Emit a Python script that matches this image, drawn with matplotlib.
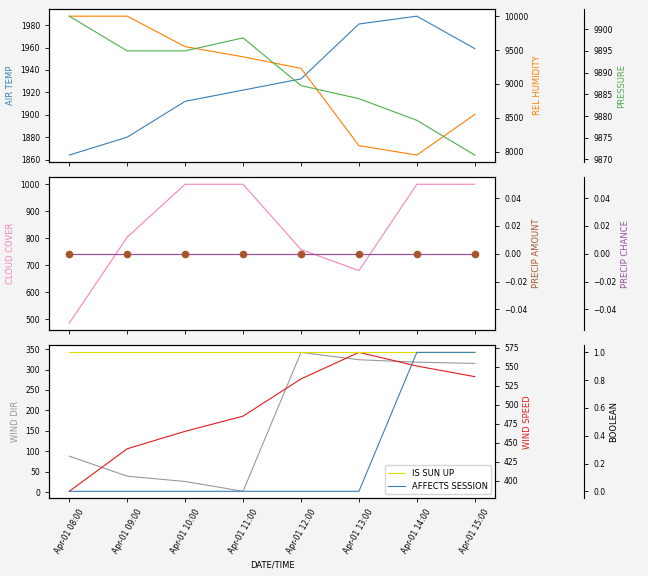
import matplotlib
matplotlib.use("Agg")
import matplotlib.pyplot as plt
import matplotlib.dates as mdates
import numpy as np
import datetime as dt

times = [dt.datetime(2021, 4, 1, h) for h in range(8, 16)]

air_temp = [1864, 1880, 1912, 1922, 1932, 1981, 1988, 1959]
rel_humidity = [10000, 10000, 9550, 9400, 9230, 8090, 7950, 8550]
pressure = [9903, 9895, 9895, 9898, 9887, 9884, 9879, 9871]

cloud_cover = [485, 804, 1000, 1000, 758, 680, 1000, 1000]
precip_amount = [0, 0, 0, 0, 0, 0, 0, 0]
precip_chance = [0, 0, 0, 0, 0, 0, 0, 0]

wind_dir = [88, 39, 26, 2, 342, 324, 318, 315]
wind_speed = [386, 442, 465, 485, 534, 569, 551, 537]
is_sun_up = [1, 1, 1, 1, 1, 1, 1, 1]
affects_session = [0, 0, 0, 0, 0, 0, 1, 1]

c_blue = '#377eb8'
c_orange = '#ff7f00'
c_green = '#4daf4a'
c_pink = '#f781bf'
c_brown = '#a65628'
c_purple = '#984ea3'
c_gray = '#999999'
c_red = '#e41a1c'
c_yellow = '#dede00'

tick_fs = 5.5
label_fs = 6
lw = 0.8

fig, axs = plt.subplots(3, 1, sharex=True, figsize=(6.48, 5.76), dpi=100)
fig.patch.set_facecolor('#f4f4f4')
fig.subplots_adjust(left=0.0756, right=0.764, top=0.984, bottom=0.135, hspace=0.1)


def add_axes3(ax):
    p1 = ax.twinx()
    p2 = ax.twinx()
    p2.spines["right"].set_position(("axes", 1.2))
    p2.set_frame_on(True)
    p2.patch.set_visible(False)
    for sp in p2.spines.values():
        sp.set_visible(False)
    p2.spines["right"].set_visible(True)
    for a in (ax, p1, p2):
        a.tick_params(labelsize=tick_fs, length=3, width=0.6)
    return p1, p2


# top panel
ax = axs[0]
p1, p2 = add_axes3(ax)
ax.plot(times, air_temp, color=c_blue, lw=lw)
p1.plot(times, rel_humidity, color=c_orange, lw=lw)
p2.plot(times, pressure, color=c_green, lw=lw)
ax.set_ylabel("AIR TEMP", color=c_blue, fontsize=label_fs)
p1.set_ylabel("REL HUMIDITY", color=c_orange, fontsize=label_fs, labelpad=3)
p2.set_ylabel("PRESSURE", color=c_green, fontsize=label_fs, labelpad=3)

# middle panel
ax = axs[1]
p1, p2 = add_axes3(ax)
ax.plot(times, cloud_cover, color=c_pink, lw=lw)
p1.plot(times, precip_amount, color=c_brown, lw=lw)
p2.plot(times, precip_chance, color=c_purple, lw=lw)
# markers for precip amount drawn above the purple line
p3 = ax.twinx()
p3.axis('off')
p3.plot(times, precip_amount, color=c_brown, ls='none', marker='o', markersize=4.5)
p3.set_ylim(p1.get_ylim())
ax.set_ylabel("CLOUD COVER", color=c_pink, fontsize=label_fs)
p1.set_ylabel("PRECIP AMOUNT", color=c_brown, fontsize=label_fs, labelpad=3)
p2.set_ylabel("PRECIP CHANCE", color=c_purple, fontsize=label_fs, labelpad=3)

# bottom panel
ax = axs[2]
p1, p2 = add_axes3(ax)
ax.plot(times, wind_dir, color=c_gray, lw=lw)
p1.plot(times, wind_speed, color=c_red, lw=lw)
p2.plot(times, is_sun_up, color=c_yellow, lw=lw, label="IS SUN UP")
p2.plot(times, affects_session, color=c_blue, lw=lw, label="AFFECTS SESSION")
ax.set_ylabel("WIND DIR", color=c_gray, fontsize=label_fs)
p1.set_ylabel("WIND SPEED", color=c_red, fontsize=label_fs, labelpad=3)
p2.set_ylabel("BOOLEAN", fontsize=label_fs, labelpad=3)
p2.legend(loc='lower right', fontsize=label_fs)

ax.xaxis.set_major_locator(mdates.HourLocator())
ax.xaxis.set_major_formatter(mdates.DateFormatter('%b-%d %H:%M'))
plt.setp(ax.get_xticklabels(), rotation=60)
ax.set_xlabel("DATE/TIME", fontsize=label_fs)

plt.savefig("out.png", dpi=100, facecolor=fig.get_facecolor())
